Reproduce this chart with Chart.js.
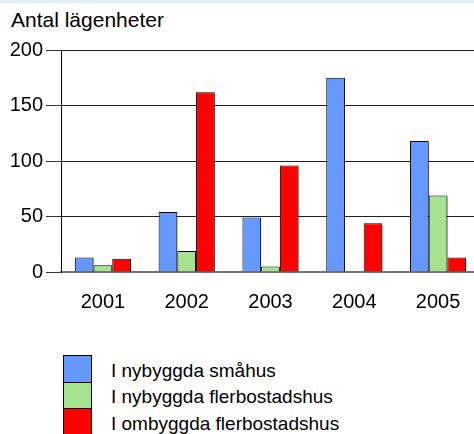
<!DOCTYPE html>
<html>
<head>
<meta charset="utf-8">
<script src="https://cdn.jsdelivr.net/npm/chart.js@4"></script>
<style>
html,body{margin:0;padding:0;background:#fff;overflow:hidden;width:474px;height:434px;position:relative;font-family:"Liberation Sans",Arial,sans-serif;}
#strip{position:absolute;left:0;top:0;width:474px;height:3px;background:#e3eefb;}
#title{position:absolute;left:11px;top:9px;font-size:21px;line-height:21px;color:#000;white-space:nowrap;}
#wrap{position:absolute;left:0;top:0;width:490px;height:320px;}
#legend{position:absolute;left:63px;top:355px;}
.item{position:relative;height:26.6px;}
.box{position:absolute;left:0;top:0;width:27px;height:25.6px;border:1px solid #000;border-bottom:none;}
.item:last-child .box{border-bottom:1px solid #000;height:24.6px;}
.lbl{position:absolute;left:48px;top:5.6px;font-size:19px;line-height:19px;white-space:nowrap;color:#000;}
</style>
</head>
<body>
<div id="strip"></div>
<div id="title">Antal lägenheter</div>
<div id="wrap"><canvas id="c" width="490" height="320"></canvas></div>
<div id="legend"></div>
<script>
const years = ['2001', '2002', '2003', '2004', '2005'];
const nybyggdaSmahus = [13, 54, 49, 175, 118];
const nybyggdaFlerbostadshus = [6, 19, 5, 0, 69];
const ombyggdaFlerbostadshus = [12, 162, 96, 44, 13];
const seriesNames = ['I nybyggda småhus', 'I nybyggda flerbostadshus', 'I ombyggda flerbostadshus'];
const seriesColors = ['#6699ff', '#a6e391', '#ff0000'];
const yTicks = [0, 50, 100, 150, 200];

const seriesData = [nybyggdaSmahus, nybyggdaFlerbostadshus, ombyggdaFlerbostadshus];

const shadowPlugin = {
  id: 'barShadow',
  beforeDatasetsDraw(chart) {
    const ctx = chart.ctx;
    ctx.save();
    ctx.shadowColor = 'rgba(0,0,0,0.35)';
    ctx.shadowOffsetX = 1.5;
    ctx.shadowOffsetY = 1.5;
    ctx.shadowBlur = 0.5;
  },
  afterDatasetsDraw(chart) {
    chart.ctx.restore();
  }
};

new Chart(document.getElementById('c'), {
  type: 'bar',
  data: {
    labels: years,
    datasets: seriesData.map((d, i) => ({
      label: seriesNames[i],
      data: d,
      backgroundColor: seriesColors[i],
      borderColor: '#000',
      borderWidth: 1,
      categoryPercentage: 0.67,
      barPercentage: 1.0
    }))
  },
  options: {
    responsive: false,
    animation: false,
    layout: { padding: { left: 0, right: 10, top: 50, bottom: 0 } },
    plugins: { legend: { display: false }, tooltip: { enabled: false } },
    scales: {
      x: {
        grid: { display: false, drawTicks: false },
        border: { display: true, color: '#777', width: 2 },
        ticks: { color: '#000', font: { family: 'Liberation Sans', size: 20 }, padding: 18 },
        afterFit(scale) { scale.height = 48; }
      },
      y: {
        min: 0, max: 200,
        afterBuildTicks(scale) { scale.ticks = yTicks.map(v => ({ value: v })); },
        grid: { color: '#222', lineWidth: 1, drawTicks: true, tickLength: 15, tickColor: '#333' },
        border: { display: true, color: '#000', width: 1 },
        ticks: { color: '#000', font: { family: 'Liberation Sans', size: 20 }, padding: 3 },
        afterFit(scale) { scale.width = 61; }
      }
    }
  },
  plugins: [shadowPlugin]
});

const legend = document.getElementById('legend');
seriesNames.forEach((n, i) => {
  const it = document.createElement('div');
  it.className = 'item';
  const b = document.createElement('div');
  b.className = 'box';
  b.style.background = seriesColors[i];
  const l = document.createElement('div');
  l.className = 'lbl';
  l.textContent = n;
  it.appendChild(b); it.appendChild(l);
  legend.appendChild(it);
});
</script>
</body>
</html>
